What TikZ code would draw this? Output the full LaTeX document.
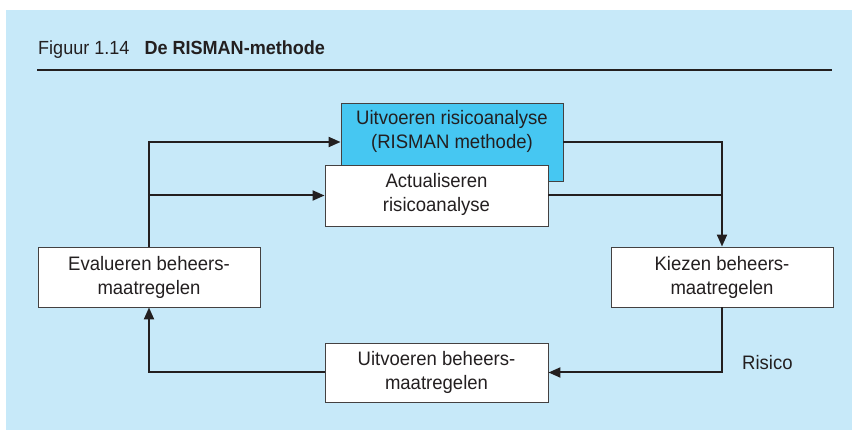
\documentclass[tikz,border=0pt]{standalone}
\usepackage{fontspec}
\setmainfont{Liberation Sans}[FakeStretch=0.95]
\usetikzlibrary{arrows.meta}
\definecolor{panelbg}{RGB}{199,233,249}
\definecolor{keybox}{RGB}{70,199,242}
\definecolor{ink}{RGB}{35,31,32}
\tikzset{
  box/.style={draw=ink!85, line width=0.9pt, fill=white, minimum width=222pt, minimum height=60pt, inner sep=0pt},
  boxtext/.style={text=ink, align=center, font=\fontsize{19.5}{24}\selectfont},
  flow/.style={draw=ink, line width=2pt, -{Triangle[length=12pt,width=10pt]}},
  plain/.style={draw=ink, line width=2pt},
}
\begin{document}
\begin{tikzpicture}[x=1pt,y=1pt]
  \useasboundingbox (0,0) rectangle (852,-430);
  % panel background
  \fill[panelbg] (6,-10) rectangle (852,-430);

  % caption and rule
  \node[anchor=base west, inner sep=0pt, text=ink, font=\fontsize{19}{22}\selectfont] (caption) at (38,-55)
    {Figuur 1.14\hspace{15pt}\textbf{De RISMAN-methode}};
  \coordinate (ruleL) at (37,-70);
  \coordinate (ruleR) at (832,-70);
  \draw[ink, line width=2pt] (ruleL) -- (ruleR);

  % boxes
  \node[box, fill=keybox, minimum width=222pt, minimum height=78pt] (blue) at (452,-142) {};
  \node[boxtext] (bluetext) at (452,-131) {Uitvoeren risicoanalyse\\(RISMAN methode)};
  \node[box, minimum width=223pt, minimum height=61pt] (act) at (436.5,-195.5) {};
  \node[boxtext] (acttext) at (436.5,-194.5) {Actualiseren\\risicoanalyse};
  \node[box] (eval) at (149,-277) {};
  \node[boxtext] (evaltext) at (149,-277) {Evalueren beheers-\\maatregelen};
  \node[box] (kies) at (722,-277) {};
  \node[boxtext] (kiestext) at (722,-277) {Kiezen beheers-\\maatregelen};
  \node[box, minimum width=223pt, minimum height=59pt] (uitv) at (436.5,-372.5) {};
  \node[boxtext] (uitvtext) at (436.5,-372.5) {Uitvoeren beheers-\\maatregelen};

  \node[boxtext, anchor=west, inner sep=0pt] (risico) at (742,-363) {Risico};

  % connectors
  \draw[flow] (eval.north) |- (blue.west);
  \draw[flow] (eval.north |- act.west) -- (act.west);
  \draw[flow] (blue.east) -| (kies.north);
  \draw[plain] (act.east) -- (kies.north |- act.east);
  \draw[flow] (kies.south) |- (uitv.east);
  \draw[flow] (uitv.west) -| (eval.south);
\end{tikzpicture}
\end{document}
